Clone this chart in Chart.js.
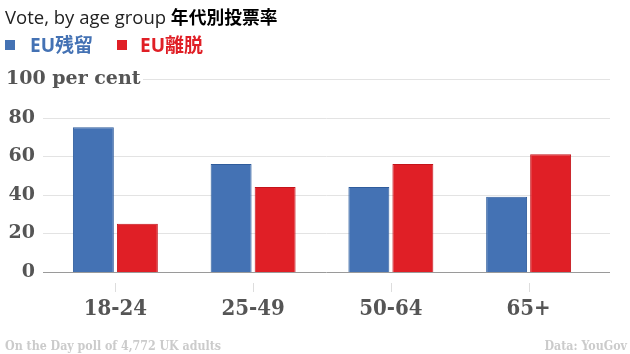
<!DOCTYPE html>
<html>
<head>
<meta charset="utf-8">
<script src="https://cdn.jsdelivr.net/npm/chart.js@4/dist/chart.umd.min.js"></script>
<style>
  html, body { margin: 0; padding: 0; background: #fff; }
  #wrap { position: relative; width: 630px; height: 354px; overflow: hidden; }
  #c { position: absolute; left: 0; top: 0; }
  .t { position: absolute; white-space: nowrap; }
  #title { left: 5px; top: 3px; font-family: "Open Sans", sans-serif; font-size: 18.5px; color: #222; line-height: 26px; }
  #title b { font-family: "Noto Sans CJK JP", sans-serif; font-weight: 700; font-size: 17.8px; color: #000; }
  .lg { top: 31px; font-family: "Open Sans", "Noto Sans CJK JP", sans-serif; font-weight: 700; font-size: 19px; line-height: 28px; }
  .sw { position: absolute; top: 40px; width: 10px; height: 10px; }
  .foot { top: 337px; font-family: "DejaVu Serif Condensed", "DejaVu Serif", serif; font-weight: 700; font-size: 12.3px; color: #cbcbcb; line-height: 18px; }
</style>
</head>
<body>
<div id="wrap">
  <canvas id="c" width="630" height="354"></canvas>
  <div class="t" id="title">Vote, by age group <b>年代別投票率</b></div>
  <div class="sw" style="left:5px;background:#4472b4"></div>
  <div class="t lg" id="lg1" style="left:30px;color:#4472b4"></div>
  <div class="sw" style="left:117px;background:#e01f26"></div>
  <div class="t lg" id="lg2" style="left:140px;color:#e01f26"></div>
  <div class="t foot" id="src" style="left:5px"></div>
  <div class="t foot" id="data" style="right:3px"></div>
</div>
<script>
// ---- data ----
const categories = ["18-24", "25-49", "50-64", "65+"];
const seriesNames = ["EU残留", "EU離脱"];
const remainValues = [75, 56, 44, 39];
const leaveValues = [25, 44, 56, 61];
const yTickValues = [0, 20, 40, 60, 80, 100];
const topTickLabel = "100 per cent";
const sourceNote = "On the Day poll of 4,772 UK adults";
const dataNote = "Data: YouGov";

document.getElementById('lg1').textContent = seriesNames[0];
document.getElementById('lg2').textContent = seriesNames[1];
document.getElementById('src').textContent = sourceNote;
document.getElementById('data').textContent = dataNote;

const slab = '"DejaVu Serif Condensed", "DejaVu Serif", serif';
const slabWide = '"DejaVu Serif", serif';

const decor = {
  id: 'decor',
  beforeDatasetsDraw(chart) {
    const ctx = chart.ctx, y = chart.scales.y, x = chart.scales.x;
    ctx.save();
    ctx.lineWidth = 1;
    yTickValues.forEach(v => {
      const py = Math.round(y.getPixelForValue(v)) + 0.5;
      ctx.strokeStyle = v === 0 ? '#9a9a9a' : '#e3e3e3';
      ctx.beginPath();
      ctx.moveTo(v === 100 ? 143 : 43, py);
      ctx.lineTo(610, py);
      ctx.stroke();
    });
    ctx.strokeStyle = '#dddddd';
    categories.forEach((c, i) => {
      const px = Math.round(x.getPixelForTick(i)) + 0.5;
      ctx.beginPath();
      ctx.moveTo(px, 283);
      ctx.lineTo(px, 292);
      ctx.stroke();
    });
    // y labels
    ctx.fillStyle = '#555555';
    ctx.font = 'bold 19px ' + slabWide;
    ctx.textBaseline = 'middle';
    yTickValues.forEach(v => {
      const py = y.getPixelForValue(v);
      if (v === 100) {
        ctx.textAlign = 'left';
        ctx.fillText(topTickLabel, 6, py);
      } else {
        ctx.textAlign = 'right';
        ctx.fillText(String(v), 35, py);
      }
    });
    ctx.restore();
  }
};

new Chart(document.getElementById('c'), {
  type: 'bar',
  data: {
    labels: categories,
    datasets: [
      { label: seriesNames[0], data: remainValues, backgroundColor: '#4472b4', borderColor: '#2f5c9c', borderWidth: 1 },
      { label: seriesNames[1], data: leaveValues, backgroundColor: '#e01f26', borderColor: '#c4141b', borderWidth: 1 }
    ]
  },
  options: {
    responsive: false,
    animation: false,
    devicePixelRatio: 1,
    layout: { padding: { left: 46.5, right: 32.5, top: 79, bottom: 0 } },
    datasets: { bar: { categoryPercentage: 0.639, barPercentage: 0.93 } },
    plugins: { legend: { display: false }, title: { display: false }, tooltip: { enabled: false } },
    scales: {
      y: { display: false, min: 0, max: 100 },
      x: {
        grid: { display: false, drawTicks: false },
        border: { display: false },
        ticks: { color: '#555555', font: { family: slab, size: 22, weight: 'bold' }, padding: 24, maxRotation: 0 },
        afterFit(s) { s.height = 82; }
      }
    }
  },
  plugins: [decor]
});
</script>
</body>
</html>
